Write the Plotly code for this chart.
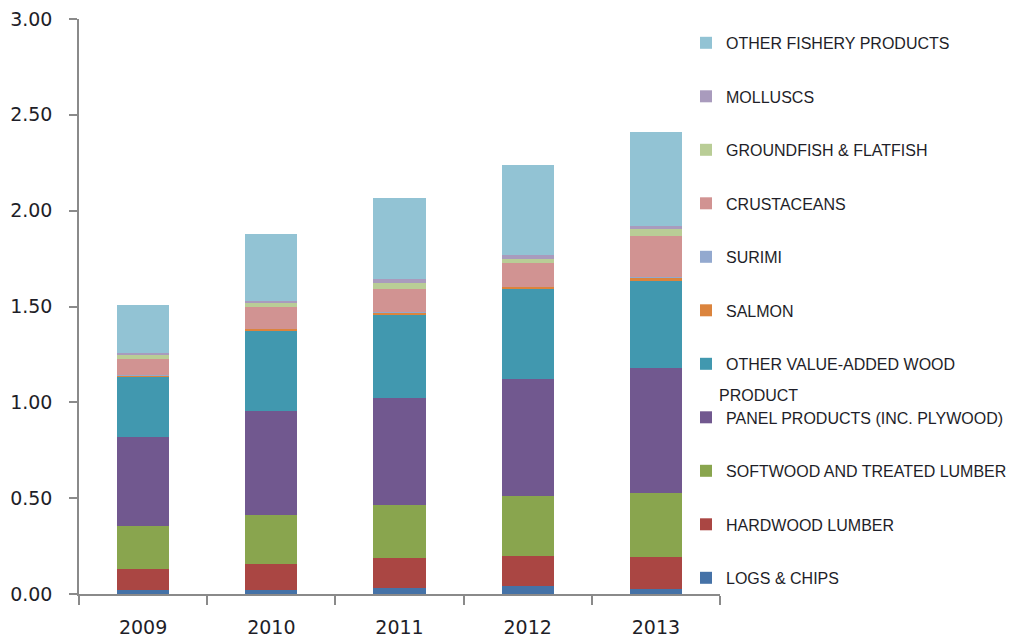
import plotly.graph_objects as go

years = ["2009", "2010", "2011", "2012", "2013"]

series_names = [
    "LOGS & CHIPS",
    "HARDWOOD LUMBER",
    "SOFTWOOD AND TREATED LUMBER",
    "PANEL PRODUCTS (INC. PLYWOOD)",
    "OTHER VALUE-ADDED WOOD",
    "SALMON",
    "SURIMI",
    "CRUSTACEANS",
    "GROUNDFISH & FLATFISH",
    "MOLLUSCS",
    "OTHER FISHERY PRODUCTS",
]

logs_chips = [0.020, 0.022, 0.031, 0.040, 0.025]
hardwood_lumber = [0.113, 0.137, 0.155, 0.156, 0.166]
softwood_lumber = [0.222, 0.252, 0.278, 0.316, 0.334]
panel_products = [0.463, 0.543, 0.557, 0.608, 0.653]
other_wood = [0.316, 0.417, 0.439, 0.472, 0.457]
salmon = [0.005, 0.012, 0.010, 0.010, 0.015]
surimi = [0.002, 0.002, 0.002, 0.002, 0.002]
crustaceans = [0.087, 0.113, 0.118, 0.122, 0.218]
groundfish = [0.020, 0.023, 0.035, 0.024, 0.035]
molluscs = [0.010, 0.008, 0.017, 0.017, 0.017]
other_fishery = [0.249, 0.347, 0.425, 0.469, 0.489]

series_values = [logs_chips, hardwood_lumber, softwood_lumber, panel_products,
                 other_wood, salmon, surimi, crustaceans, groundfish, molluscs,
                 other_fishery]

colors = ["#4572A7", "#AA4643", "#89A54E", "#71588F", "#4198AF", "#DB843D",
          "#93A9CF", "#D19392", "#B9CD96", "#A99BBD", "#92C3D4"]

y_ticks = [0, 0.5, 1.0, 1.5, 2.0, 2.5, 3.0]
y_tick_labels = ["0.00", "0.50", "1.00", "1.50", "2.00", "2.50", "3.00"]

fig = go.Figure()
n = len(series_names)
for i, (name, vals, col) in enumerate(zip(series_names, series_values, colors)):
    fig.add_trace(go.Bar(
        x=years, y=vals, name=name, legendgroup=name,
        legendrank=n - i,
        marker=dict(color=col, line=dict(width=0)),
    ))

AXIS_GREY = "#8a8a8a"
TEXT = "#1e1e28"
LEG_FONT = "Liberation Sans, Arial, sans-serif"

fig.update_layout(
    width=1029, height=641,
    barmode="stack", bargap=0.594,
    plot_bgcolor="white", paper_bgcolor="white",
    margin=dict(l=79, r=309, t=19, b=47),
    showlegend=True,
    legend=dict(
        x=0.947, xanchor="left", y=0.988, yanchor="top",
        traceorder="grouped", tracegroupgap=29.7,
        font=dict(family=LEG_FONT, size=16, color=TEXT),
        bgcolor="rgba(0,0,0,0)",
    ),
    xaxis=dict(
        type="category", showline=True, linecolor=AXIS_GREY, linewidth=1.5,
        ticks="outside", tickson="boundaries", ticklen=9, tickcolor=AXIS_GREY,
        tickwidth=1.5, showgrid=False, automargin=False,
        tickfont=dict(family="DejaVu Sans", size=19, color=TEXT),
        ticklabelstandoff=15,
    ),
    yaxis=dict(
        range=[0, 3], autorange=False, showline=True, linecolor=AXIS_GREY,
        linewidth=1.5, ticks="outside", ticklen=8, tickcolor=AXIS_GREY,
        tickwidth=1.5, showgrid=False, zeroline=False, automargin=False,
        tickvals=y_ticks, ticktext=y_tick_labels,
        tickfont=dict(family="DejaVu Sans", size=19, color=TEXT),
        ticklabelstandoff=13,
    ),
    annotations=[dict(
        text="PRODUCT", xref="paper", yref="paper", x=0.996, y=0.346,
        xanchor="left", yanchor="middle", showarrow=False,
        font=dict(family=LEG_FONT, size=16, color=TEXT),
    )],
)

fig.write_html("out.html")
